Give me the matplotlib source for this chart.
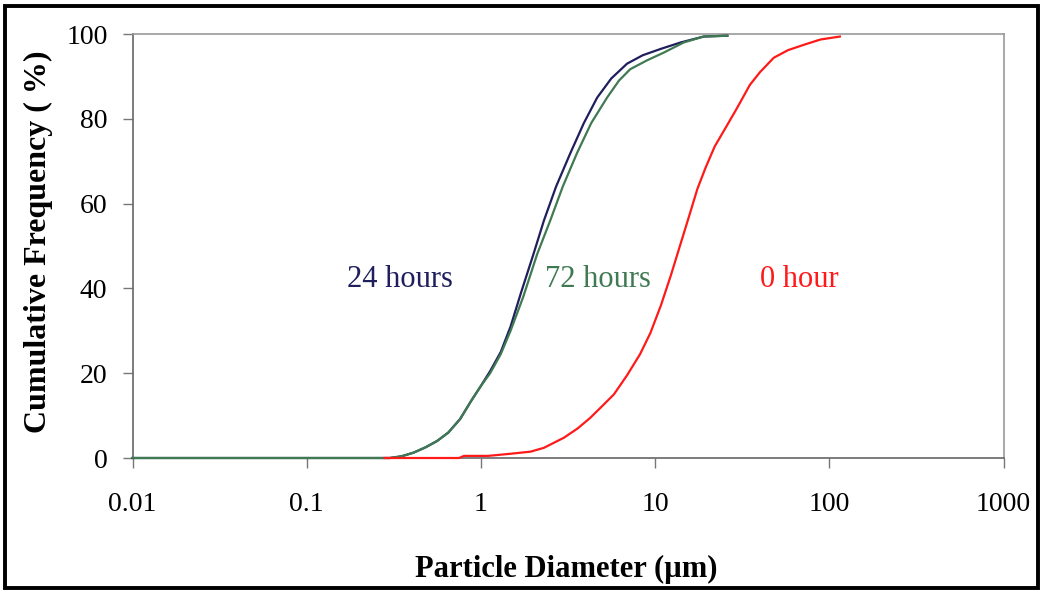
import matplotlib
matplotlib.use("Agg")
import matplotlib.pyplot as plt
from matplotlib.patches import Rectangle

# ---- data ----
x_24h = [0.01, 0.3, 0.35, 0.41, 0.48, 0.56, 0.65, 0.76, 0.88, 1.0, 1.13, 1.3, 1.48,
         1.7, 2.0, 2.3, 2.7, 3.27, 3.9, 4.65, 5.6, 6.9, 8.5, 10.8, 14, 19, 26]
y_24h = [0, 0, 0.4, 1.25, 2.5, 4, 6, 9.2, 13.5, 17, 20.5, 25, 31,
         39, 48, 56, 64, 72, 79, 85, 89.5, 93, 95, 96.5, 98, 99.4, 99.6]

x_72h = [0.01, 0.3, 0.35, 0.41, 0.48, 0.56, 0.65, 0.76, 0.88, 1.0, 1.13, 1.3, 1.48,
         1.75, 2.1, 2.5, 2.95, 3.57, 4.3, 5.3, 6.2, 7.2, 9.0, 11.2, 14.6, 19, 26]
y_72h = [0, 0, 0.4, 1.25, 2.5, 4, 6, 9.2, 13.5, 17, 20, 24.5, 30,
         38, 48, 56, 64, 72, 79, 85, 89, 91.7, 93.8, 95.6, 98, 99.4, 99.6]

x_0h = [0.28, 0.75, 0.8, 1.1, 1.48, 1.93, 2.3, 3.0, 3.6, 4.25, 4.9, 5.8, 6.9,
        8.2, 9.4, 10.8, 12.3, 14.0, 15.8, 17.5, 19.5, 22, 25.5, 29.6, 35, 40, 48,
        58, 72, 89, 115]
y_0h = [0, 0, 0.5, 0.5, 1.0, 1.5, 2.4, 4.8, 7, 9.5, 12, 15, 19.5,
        24.5, 29.5, 36, 43, 50.5, 57.5, 63.5, 68.5, 73.5, 78, 82.6, 88, 91, 94.4,
        96.2, 97.5, 98.7, 99.4]

x_ticks = [0.01, 0.1, 1, 10, 100, 1000]
x_ticklabels = ["0.01", "0.1", "1", "10", "100", "1000"]
y_ticks = [0, 20, 40, 60, 80, 100]

series_labels = ["24 hours", "72 hours", "0 hour"]
colors = ["#1e1f5c", "#3f7a52", "#ff1a1a"]

plt.rcParams['font.family'] = ['Liberation Serif', 'DejaVu Serif']

W, H = 1043, 591
fig = plt.figure(figsize=(W / 100, H / 100), dpi=100)
ax_left, ax_right, ax_top, ax_bottom = 132.5, 1003.5, 34, 458
ax = fig.add_axes([ax_left / W, 1 - ax_bottom / H, (ax_right - ax_left) / W, (ax_bottom - ax_top) / H])

ax.plot(x_24h, y_24h, color=colors[0], lw=1.6, zorder=3, clip_on=False)
ax.plot(x_72h, y_72h, color=colors[1], lw=1.6, zorder=3.5, clip_on=False)
ax.plot(x_0h, y_0h, color=colors[2], lw=1.6, zorder=4, clip_on=False)

ax.set_xscale("log")
ax.set_xlim(0.01, 1000)
ax.set_ylim(0, 100)
ax.set_xticks(x_ticks)
ax.set_xticklabels(x_ticklabels)
ax.set_yticks(y_ticks)
ax.minorticks_off()
ax.tick_params(axis="both", labelsize=20, color="#777777", width=1.0)
ax.tick_params(axis="y", direction="out", length=7, pad=11)
ax.tick_params(axis="x", direction="out", length=7.5, pad=17)

for side in ["left", "bottom"]:
    ax.spines[side].set_color("#666666")
    ax.spines[side].set_linewidth(1.2)
for side in ["top", "right"]:
    ax.spines[side].set_color("#999999")
    ax.spines[side].set_linewidth(1.2)

ax_w = ax_right - ax_left
ax_h = ax_bottom - ax_top

ax.set_xlabel("Particle Diameter (\u00b5m)", fontsize=22, fontweight="bold")
ax.xaxis.label.set_va("baseline")
ax.xaxis.set_label_coords(0.5 + (566 - (ax_left + ax_right) / 2) / ax_w, (ax_bottom - 577) / ax_h)

ax.set_ylabel("Cumulative Frequency ( %)", fontsize=23, fontweight="bold")
ax.yaxis.label.set_va("baseline")
ax.yaxis.label.set_rotation_mode("anchor")
ax.yaxis.set_label_coords((46 - ax_left) / ax_w, (ax_bottom - 241.5) / ax_h)

ax.text(0.345, 40.3, series_labels[0], color=colors[0], fontsize=22, ha="center", va="baseline")
ax.text(4.7, 40.3, series_labels[1], color=colors[1], fontsize=22, ha="center", va="baseline")
ax.text(67.7, 40.3, series_labels[2], color=colors[2], fontsize=22, ha="center", va="baseline")

# outer black frame
fig.patches.append(Rectangle((5 / W, 1 - 588 / H), (1038 - 5) / W, (588 - 6) / H,
                             transform=fig.transFigure, fill=False,
                             edgecolor="black", linewidth=2.8))

fig.savefig("out.png", dpi=100)
